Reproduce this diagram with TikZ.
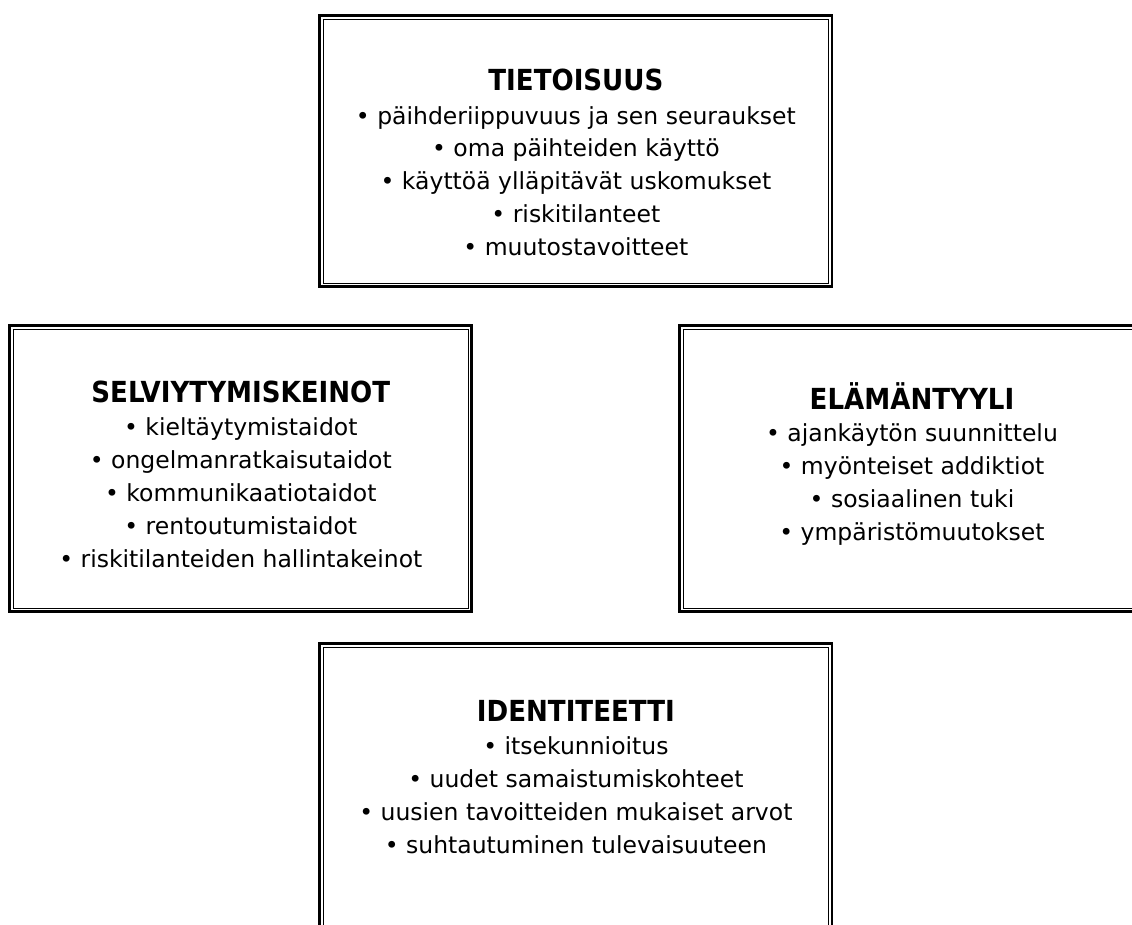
\documentclass[tikz,border=0pt]{standalone}
\usepackage{fontspec}
\setmainfont{DejaVu Sans}
\newfontfamily\titlefont{DejaVu Sans Condensed}
\begin{document}
\begin{tikzpicture}[x=1pt,y=-1pt,
  outerbox/.style={draw, line width=2.9pt, inner sep=0pt, outer sep=0pt, rectangle},
  innerline/.style={draw, line width=1.3pt},
  titletext/.style={anchor=base, inner sep=0pt, font=\titlefont\fontsize{29}{33}\selectfont\bfseries},
  itemtext/.style={anchor=base, inner sep=0pt, font=\fontsize{23.5}{33}\selectfont}]
\useasboundingbox (0,0) rectangle (1132,924);
% boxes
\node[outerbox, minimum width=512.2pt, minimum height=270.9pt] (top) at (575.9,151.25) {};
\node[outerbox, minimum width=462pt, minimum height=286pt] (left) at (240.8,468.8) {};
\node[outerbox, minimum width=462pt, minimum height=286pt] (right) at (910.8,468.8) {};
\node[outerbox, minimum width=512.2pt, minimum height=290pt] (bottom) at (575.9,788.8) {};
\foreach \b in {top,left,right,bottom}
  \draw[innerline] ([shift={(3.5pt,-3.5pt)}]\b.north west) rectangle ([shift={(-3.5pt,3.5pt)}]\b.south east);
% texts
\node[titletext] (top-t) at (575.9,90) {TIETOISUUS};
\foreach \t [count=\i] in {päihderiippuvuus ja sen seuraukset, oma päihteiden käyttö, käyttöä ylläpitävät uskomukset, riskitilanteet, muutostavoitteet}
  \node[itemtext] (top-\i) at (575.9,{124+(\i-1)*32.8}) {•\ \t};
\node[titletext] (left-t) at (240.8,402.7) {SELVIYTYMISKEINOT};
\foreach \t [count=\i] in {kieltäytymistaidot, ongelmanratkaisutaidot, kommunikaatiotaidot, rentoutumistaidot, riskitilanteiden hallintakeinot}
  \node[itemtext] (left-\i) at (240.8,{435+(\i-1)*33}) {•\ \t};
\node[titletext] (right-t) at (912,409.3) {ELÄMÄNTYYLI};
\foreach \t [count=\i] in {ajankäytön suunnittelu, myönteiset addiktiot, sosiaalinen tuki, ympäristömuutokset}
  \node[itemtext] (right-\i) at (912,{441.7+(\i-1)*32.8}) {•\ \t};
\node[titletext] (bottom-t) at (575.9,721) {IDENTITEETTI};
\foreach \t [count=\i] in {itsekunnioitus, uudet samaistumiskohteet, uusien tavoitteiden mukaiset arvot, suhtautuminen tulevaisuuteen}
  \node[itemtext] (bottom-\i) at (575.9,{754.3+(\i-1)*32.9}) {•\ \t};
\end{tikzpicture}
\end{document}
